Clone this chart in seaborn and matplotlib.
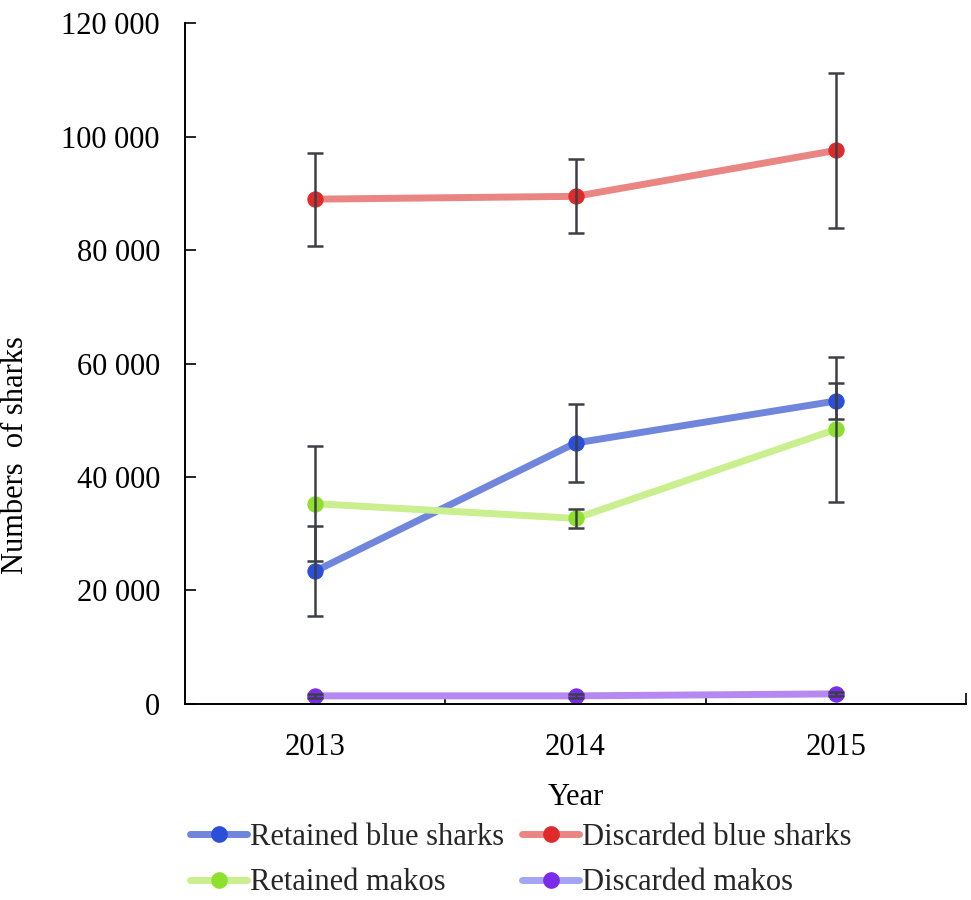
import numpy as np
import pandas as pd
import seaborn as sns
import matplotlib
matplotlib.use("Agg")
import matplotlib.pyplot as plt
from matplotlib.ticker import FuncFormatter, FixedLocator
from matplotlib.lines import Line2D

years = [2013, 2014, 2015]
series_names = ["Retained blue sharks", "Discarded blue sharks", "Retained makos", "Discarded makos"]

retained_blue = [23400, 46000, 53400]
retained_blue_err = [8000, 6800, 3200]
discarded_blue = [89000, 89500, 97600]
discarded_blue_err = [8200, 6500, 13600]
retained_makos = [35300, 32700, 48400]
retained_makos_err = [10100, 1700, 12800]
discarded_makos = [1400, 1400, 1750]
discarded_makos_err = [300, 300, 400]

y_ticks = [0, 20000, 40000, 60000, 80000, 100000, 120000]

line_colors = ["#7086dc", "#e98583", "#c9ef8e", "#b588f2"]
marker_colors = ["#2b4fd8", "#e02a2a", "#8fe02e", "#7b2cea"]
legend_line_colors = ["#7086dc", "#e98583", "#c9ef8e", "#a4a4f4"]

values = [retained_blue, discarded_blue, retained_makos, discarded_makos]
errors = [retained_blue_err, discarded_blue_err, retained_makos_err, discarded_makos_err]

sns.set_theme(style="white")
plt.rcParams['font.family'] = ['Liberation Serif', 'DejaVu Serif']

FS = 22

fig = plt.figure(figsize=(9.71, 9.0), dpi=100)
ax = fig.add_axes([0.1905, 0.218, 0.8045, 0.756])

for name, vals, errs, lc, mc in zip(series_names, values, errors, line_colors, marker_colors):
    df = pd.DataFrame({"Year": years, "Value": vals})
    sns.lineplot(data=df, x="Year", y="Value", ax=ax, color=lc, linewidth=5,
                 marker="o", markersize=11, markerfacecolor=mc, markeredgecolor=mc,
                 alpha=1.0, zorder=2, legend=False)
    ax.lines[-1].set_markerfacecolor(matplotlib.colors.to_rgba(mc, 0.85))
    ax.lines[-1].set_markeredgecolor(matplotlib.colors.to_rgba(mc, 0.0))
    ax.errorbar(years, vals, yerr=errs, fmt="none", ecolor="#3c3f47",
                elinewidth=1.8, capsize=6, capthick=1.8, zorder=3)

ax.set_xlim(2012.5, 2015.5)
ax.set_ylim(0, 120000)
ax.set_xticks(years)
ax.set_xticklabels([str(y) for y in years])
ax.xaxis.set_minor_locator(FixedLocator([2013.5, 2014.5, 2015.5]))
ax.tick_params(axis="x", which="major", length=0, labelsize=FS, pad=21, colors="black")
ax.tick_params(axis="x", which="minor", direction="in", length=8, width=1.2, color="black", bottom=True)
ax.set_yticks(y_ticks)
ax.yaxis.set_major_formatter(FuncFormatter(lambda v, p: f"{int(v):,}".replace(",", " ")))
ax.tick_params(axis="y", direction="in", length=8, width=1.2, color="black", left=True,
               labelsize=FS, pad=18, labelcolor="black")

for s in ["top", "right"]:
    ax.spines[s].set_visible(False)
for s in ["left", "bottom"]:
    ax.spines[s].set_color("black")
    ax.spines[s].set_linewidth(1.4)

ax.set_xlabel("Year", fontsize=FS, color="black")
ax.xaxis.set_label_coords(0.5, -0.116)
ax.set_ylabel("Numbers  of sharks", fontsize=FS, color="black")
ax.yaxis.set_label_coords(-0.198, 0.366)
ax.grid(False)

handles = [Line2D([0], [0], color=lc, linewidth=5, marker="o", markersize=11,
                  markerfacecolor=mc, markeredgecolor=mc)
           for lc, mc in zip(legend_line_colors, marker_colors)]
order = [0, 2, 1, 3]
fig.legend([handles[i] for i in order], [series_names[i] for i in order],
           loc="upper left", bbox_to_anchor=(0.196, 0.086), ncol=2,
           frameon=False, fontsize=FS, handlelength=1.85, handletextpad=0.1,
           columnspacing=0.6, labelspacing=0.55, borderaxespad=0, borderpad=0)

fig.savefig("out.png", dpi=100)
